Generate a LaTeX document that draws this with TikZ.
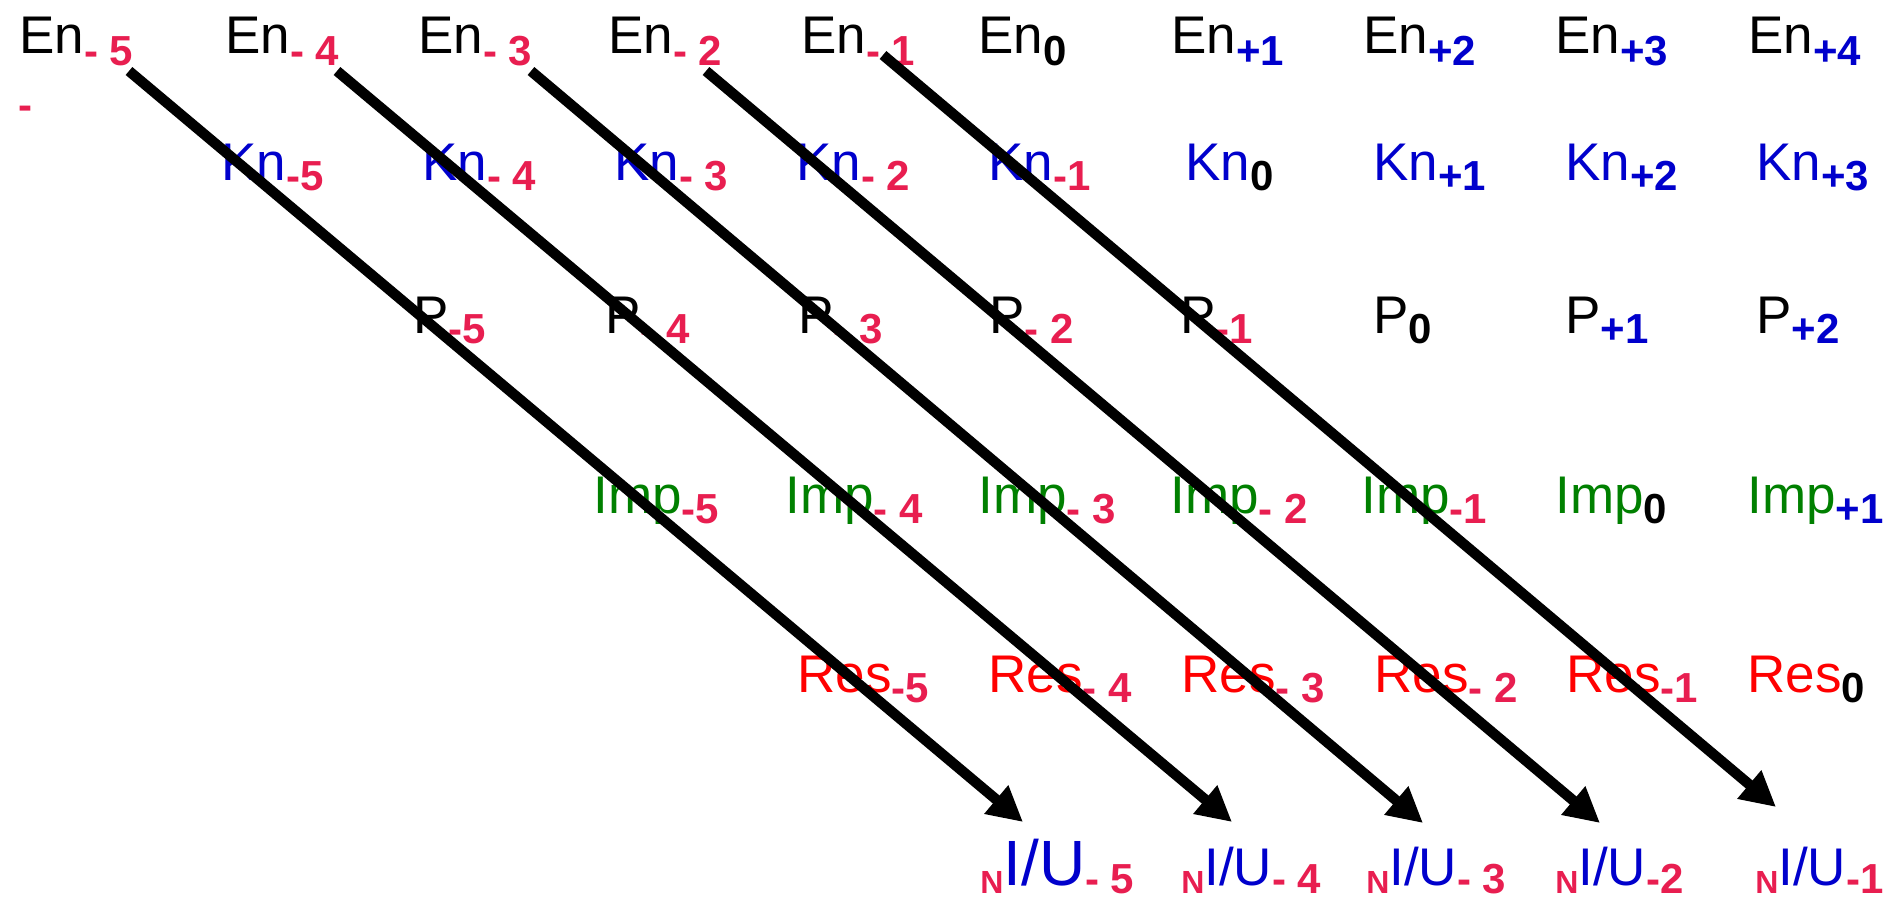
\documentclass[tikz,border=0pt]{standalone}
\usepackage{fontspec}
\setmainfont{Liberation Sans}
\usetikzlibrary{arrows.meta}
\definecolor{subred}{RGB}{232,30,80}
\definecolor{myblue}{RGB}{0,0,204}
\definecolor{mygreen}{RGB}{0,128,0}
\definecolor{resred}{RGB}{255,0,0}
\newcommand\mainsz{\fontsize{26.5pt}{30pt}\selectfont}
\newcommand\bigsz{\fontsize{32pt}{36pt}\selectfont}
\newcommand\subsz{\fontsize{21pt}{24pt}\selectfont\bfseries}
\newcommand\sbx[3][5pt]{\raisebox{-#1}{\subsz\color{#2}#3}}
\newcommand\nsub{\raisebox{-4pt}{\fontsize{16pt}{18pt}\selectfont\bfseries\color{subred}N}}
\begin{document}
\begin{tikzpicture}[x=0.5pt,y=-0.5pt,
  lbl/.style={anchor=base west,inner sep=0pt,font=\mainsz},
  enl/.style={lbl,text=black},
  knl/.style={lbl,text=myblue},
  pl/.style={lbl,text=black},
  impl/.style={lbl,text=mygreen},
  resl/.style={lbl,text=resred},
  iul/.style={lbl,text=myblue},
  arr/.style={line width=5.2pt,-{Triangle[length=17.5pt,width=17.5pt]}}]
\useasboundingbox (0,0) rectangle (1890,900);
% Row En
\node[enl] (en-5) at (19,53)   {En\sbx[6pt]{subred}{- 5}};
\node[enl] (en-4) at (225,53)  {En\sbx[6pt]{subred}{- 4}};
\node[enl] (en-3) at (418,53)  {En\sbx[6pt]{subred}{- 3}};
\node[enl] (en-2) at (608,53)  {En\sbx[6pt]{subred}{- 2}};
\node[enl] (en-1) at (801,53)  {En\sbx[6pt]{subred}{- 1}};
\node[enl] (en0)  at (978,53)  {En\sbx[6pt]{black}{0}};
\node[enl] (en1)  at (1171,53) {En\sbx[6pt]{myblue}{+1}};
\node[enl] (en2)  at (1363,53) {En\sbx[6pt]{myblue}{+2}};
\node[enl] (en3)  at (1555,53) {En\sbx[6pt]{myblue}{+3}};
\node[enl] (en4)  at (1748,53) {En\sbx[6pt]{myblue}{+4}};
\node[lbl,font=\subsz,text=subred] (stray) at (18.5,119) {-};
% Row Kn
\node[knl] (kn-5) at (221,180)  {Kn\sbx{subred}{-5}};
\node[knl] (kn-4) at (422,180)  {Kn\sbx{subred}{- 4}};
\node[knl] (kn-3) at (614,180)  {Kn\sbx{subred}{- 3}};
\node[knl] (kn-2) at (796,180)  {Kn\sbx{subred}{- 2}};
\node[knl] (kn-1) at (988,180)  {Kn\sbx{subred}{-1}};
\node[knl] (kn0)  at (1185,180) {Kn\sbx{black}{0}};
\node[knl] (kn1)  at (1373,180) {Kn\sbx{myblue}{+1}};
\node[knl] (kn2)  at (1565,180) {Kn\sbx{myblue}{+2}};
\node[knl] (kn3)  at (1756,180) {Kn\sbx{myblue}{+3}};
% Row P
\node[pl] (p-5) at (413,333)  {P\sbx{subred}{-5}};
\node[pl] (p-4) at (605,333)  {P\sbx{subred}{- 4}};
\node[pl] (p-3) at (798,333)  {P\sbx{subred}{- 3}};
\node[pl] (p-2) at (989,333)  {P\sbx{subred}{- 2}};
\node[pl] (p-1) at (1180,333) {P\sbx{subred}{-1}};
\node[pl] (p0)  at (1373,333) {P\sbx{black}{0}};
\node[pl] (p1)  at (1565,333) {P\sbx{myblue}{+1}};
\node[pl] (p2)  at (1756,333) {P\sbx{myblue}{+2}};
% Row Imp
\node[impl] (imp-5) at (593,513)  {Imp\sbx{subred}{-5}};
\node[impl] (imp-4) at (785,513)  {Imp\sbx{subred}{- 4}};
\node[impl] (imp-3) at (978,513)  {Imp\sbx{subred}{- 3}};
\node[impl] (imp-2) at (1170,513) {Imp\sbx{subred}{- 2}};
\node[impl] (imp-1) at (1361,513) {Imp\sbx{subred}{-1}};
\node[impl] (imp0)  at (1555,513) {Imp\sbx{black}{0}};
\node[impl] (imp1)  at (1747,513) {Imp\sbx{myblue}{+1}};
% Row Res
\node[resl] (res-5) at (797,692)  {Res\sbx{subred}{-5}};
\node[resl] (res-4) at (988,692)  {Res\sbx{subred}{- 4}};
\node[resl] (res-3) at (1181,692) {Res\sbx{subred}{- 3}};
\node[resl] (res-2) at (1374,692) {Res\sbx{subred}{- 2}};
\node[resl] (res-1) at (1566,692) {Res\sbx{subred}{-1}};
\node[resl] (res0)  at (1747,692) {Res\sbx{black}{0}};
% Row I/U
\node[iul] (iu-5) at (980,885)  {\nsub{\bigsz I/U}\sbx[4pt]{subred}{- 5}};
\node[iul] (iu-4) at (1181,885) {\nsub I/U\sbx[4pt]{subred}{- 4}};
\node[iul] (iu-3) at (1366,885) {\nsub I/U\sbx[4pt]{subred}{- 3}};
\node[iul] (iu-2) at (1555,885) {\nsub I/U\sbx[4pt]{subred}{-2}};
\node[iul] (iu-1) at (1755,885) {\nsub I/U\sbx[4pt]{subred}{-1}};
% Arrows
\coordinate (s1) at (129,71);  \coordinate (t1) at (1023,822);
\coordinate (s2) at (337,71);  \coordinate (t2) at (1232,822);
\coordinate (s3) at (531,71);  \coordinate (t3) at (1423,823);
\coordinate (s4) at (706,71);  \coordinate (t4) at (1600,823);
\coordinate (s5) at (883,55);  \coordinate (t5) at (1776,807);
\draw[arr] (s1) -- (t1);
\draw[arr] (s2) -- (t2);
\draw[arr] (s3) -- (t3);
\draw[arr] (s4) -- (t4);
\draw[arr] (s5) -- (t5);
\end{tikzpicture}
\end{document}
